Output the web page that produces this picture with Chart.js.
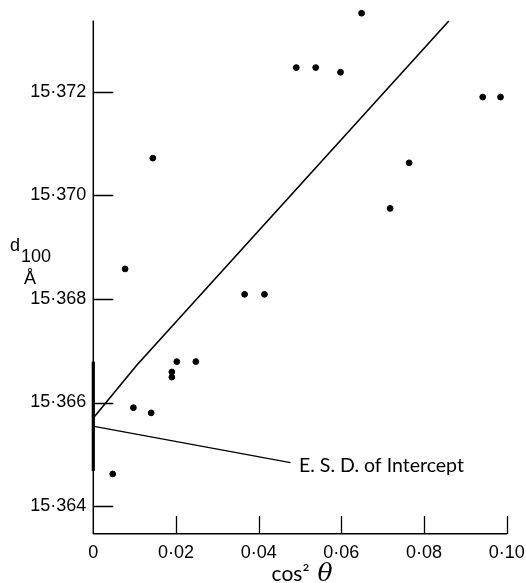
<!DOCTYPE html>
<html>
<head>
<meta charset="utf-8">
<script src="https://cdn.jsdelivr.net/npm/chart.js@4.4.1/dist/chart.umd.min.js"></script>
<style>
  html, body { margin: 0; padding: 0; background: #fff; }
  canvas { display: block; }
</style>
</head>
<body>
<canvas id="c" width="526" height="583"></canvas>
<script>
// ---- data ----
const cos2Theta = [0.0047, 0.0077, 0.0097, 0.0140, 0.0144, 0.0190, 0.0190, 0.0202, 0.0248,
                   0.0366, 0.0414, 0.0491, 0.0538, 0.0598, 0.0649, 0.0718, 0.0764, 0.0942, 0.0985];
const d100 = [15.36462, 15.36858, 15.36590, 15.36580, 15.37072, 15.36659, 15.36649, 15.36679, 15.36679,
              15.36809, 15.36809, 15.37247, 15.37247, 15.37238, 15.37352, 15.36975, 15.37063, 15.37190, 15.37190];
const fitX = [0, 0.0105, 0.0860];
const fitY = [15.3657, 15.36672, 15.37337];
const esdBarX = [0, 0];
const esdBarY = [15.36468, 15.36679];
const leaderX = [0.0002, 0.0477];
const leaderY = [15.36554, 15.36484];
const xTicks = [0, 0.02, 0.04, 0.06, 0.08, 0.10];
const yTicks = [15.364, 15.366, 15.368, 15.370, 15.372];
const xRange = [0, 0.10];
const yRange = [15.36346, 15.3737];
const yAxisTop = 15.37338;
const annotationText = "E. S. D. of Intercept";
const xTitle = ["cos²", "θ"];
const yTitle = ["d", "100", "Å"];

const toXY = (xs, ys) => xs.map((x, i) => ({x: x, y: ys[i]}));
const dotLabel = s => s.replace('.', '·');

const innerTicks = {
  id: 'innerTicks',
  afterDraw(chart) {
    const ctx = chart.ctx;
    const a = chart.chartArea;
    const xs = chart.scales.x, ys = chart.scales.y;
    ctx.save();
    ctx.strokeStyle = '#000';
    // y axis line
    ctx.lineWidth = 1.5;
    ctx.beginPath();
    ctx.moveTo(a.left, ys.getPixelForValue(yAxisTop));
    ctx.lineTo(a.left, a.bottom);
    ctx.stroke();

    ctx.lineWidth = 1.3;
    ctx.beginPath();
    yTicks.forEach(v => {
      const py = Math.round(ys.getPixelForValue(v)) + 0.5;
      ctx.moveTo(a.left, py); ctx.lineTo(a.left + 20, py);
    });
    xTicks.forEach(v => {
      if (v === 0) return;
      const px = Math.round(xs.getPixelForValue(v)) + 0.5;
      ctx.moveTo(px, a.bottom); ctx.lineTo(px, a.bottom - 18);
    });
    ctx.stroke();

    // annotation text at end of leader line
    const lx = xs.getPixelForValue(leaderX[1]);
    const ly = ys.getPixelForValue(leaderY[1]);
    ctx.fillStyle = '#000';
    ctx.font = '19.5px "Lato", "Open Sans", sans-serif';
    ctx.textBaseline = 'alphabetic';
    ctx.textAlign = 'left';
    ctx.fillText(annotationText, lx + 8.5, ly + 9.5);

    // x title
    const cx = (a.left + a.right) / 2;
    const f1 = '21px "Lato", sans-serif';
    const f3 = 'italic 25px "DejaVu Serif", serif';
    ctx.font = f1; const w1 = ctx.measureText(xTitle[0]).width;
    ctx.font = f3; const w3 = ctx.measureText(xTitle[1]).width;
    const gap = 8;
    const total = w1 + gap + w3;
    const x0 = cx - total / 2 + 2;
    const base = 581;
    ctx.font = f1; ctx.fillText(xTitle[0], x0, base);
    ctx.font = f3; ctx.fillText(xTitle[1], x0 + w1 + gap, base);

    // y title
    ctx.font = '18px "Liberation Sans", sans-serif';
    ctx.fillText(yTitle[0], 10, 251);
    ctx.fillText(yTitle[1], 21, 262);
    ctx.textAlign = 'center';
    ctx.fillText(yTitle[2], 30, 284);
    ctx.restore();
  }
};

new Chart(document.getElementById('c'), {
  type: 'scatter',
  data: {
    datasets: [
      { data: toXY(cos2Theta, d100), backgroundColor: '#000', borderColor: '#000',
        pointRadius: 2.9, pointHoverRadius: 2.9, showLine: false, clip: false },
      { data: toXY(fitX, fitY), showLine: true, borderColor: '#000', borderWidth: 1.6,
        pointRadius: 0, clip: false },
      { data: toXY(leaderX, leaderY), showLine: true, borderColor: '#000', borderWidth: 1.2,
        pointRadius: 0, clip: false },
      { data: toXY(esdBarX, esdBarY), showLine: true, borderColor: '#000', borderWidth: 3.2,
        pointRadius: 0, clip: false }
    ]
  },
  options: {
    responsive: false,
    animation: false,
    devicePixelRatio: 1,
    layout: { padding: { top: 3.6, right: 19.3, left: 0, bottom: 0 } },
    plugins: { legend: { display: false }, tooltip: { enabled: false } },
    scales: {
      x: {
        type: 'linear', min: xRange[0], max: xRange[1],
        grid: { display: false, drawTicks: false },
        border: { display: true, color: '#000', width: 1.5 },
        afterFit: s => { s.height = 49; s.paddingLeft = 0; s.paddingRight = 0; },
        afterBuildTicks: s => { s.ticks = xTicks.map(v => ({value: v})); },
        ticks: {
          padding: 8, color: '#000', maxRotation: 0,
          font: { family: '"Liberation Sans", Arial, sans-serif', size: 18 },
          callback: v => v === 0 ? '0' : dotLabel(v.toFixed(2))
        }
      },
      y: {
        type: 'linear', min: yRange[0], max: yRange[1],
        grid: { display: false, drawTicks: false },
        border: { display: false },
        afterFit: s => { s.width = 93.3; s.paddingTop = 0; s.paddingBottom = 0; },
        afterBuildTicks: s => { s.ticks = yTicks.map(v => ({value: v})); },
        ticks: {
          padding: 7, color: '#000',
          font: { family: '"Liberation Sans", Arial, sans-serif', size: 18 },
          callback: v => dotLabel(v.toFixed(3))
        }
      }
    }
  },
  plugins: [innerTicks]
});
</script>
</body>
</html>
